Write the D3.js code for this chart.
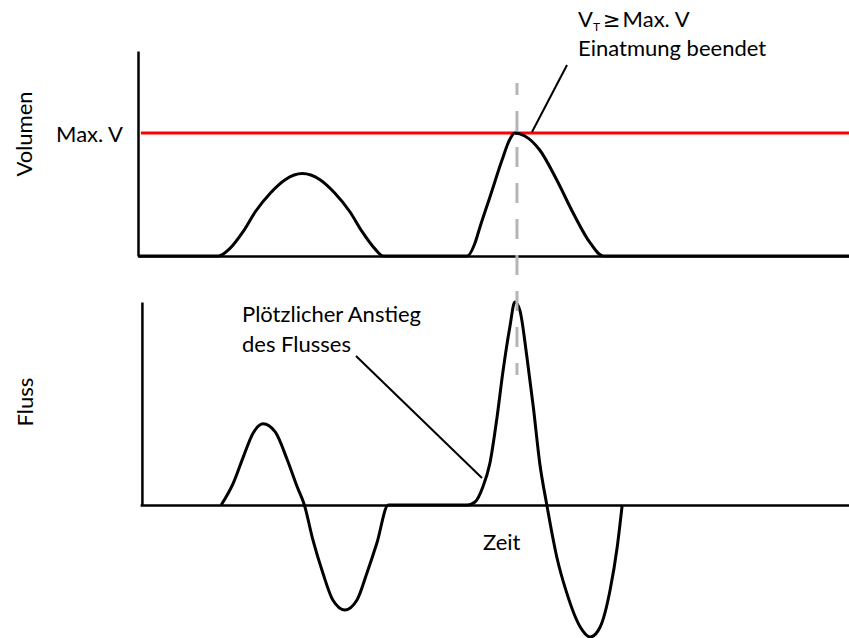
<!DOCTYPE html>
<html>
<head>
<meta charset="utf-8">
<script src="https://cdn.jsdelivr.net/npm/d3@7"></script>
<style>
  html, body { margin: 0; padding: 0; background: #fff; }
  svg text { font-family: Lato, "Open Sans", sans-serif; fill: #000; }
</style>
</head>
<body>
<svg id="chart" width="849" height="638"></svg>
<script>
// Time axis runs 0..100 (arbitrary units) across both panels.
// Volume is expressed relative to the set maximum volume (Max. V = 1).
const volumeTime  = [0, 11.3, 12.9, 14.8, 16.5, 18.6, 20.7, 23.1, 25.6, 27.7, 29.8, 31.5, 33.3, 34.5,
                     46.3, 47.4, 48.1, 49.5, 51.2, 52.3, 53.0, 54.4, 56.5, 58.9, 61.2, 63.6, 65.4, 100];
const volumeValue = [0, 0, 0.06, 0.20, 0.36, 0.51, 0.62, 0.67, 0.62, 0.51, 0.36, 0.20, 0.06, 0,
                     0, 0.106, 0.236, 0.48, 0.78, 0.95, 1.0, 0.976, 0.862, 0.618, 0.35, 0.106, 0, 0];

// Flow relative to the peak of the second breath (peak = 1).
const flowTime  = [11.7, 13.4, 14.8, 16.2, 17.6, 19.3, 21.0, 22.4, 23.4, 24.6, 26.0, 27.4, 29.1, 30.8, 32.2, 33.6, 35.2,
                   46.3, 47.4, 48.5, 49.5, 50.5, 51.3, 52.3, 53.0, 53.7, 54.7, 55.6, 56.5, 57.5,
                   58.9, 60.3, 62.2, 63.6, 65.0, 66.4, 67.4, 68.1];
const flowValue = [0, 0.108, 0.236, 0.355, 0.40, 0.36, 0.222, 0.089, 0, -0.172, -0.335, -0.468, -0.517, -0.468, -0.335, -0.187, 0,
                   0, 0.015, 0.089, 0.207, 0.433, 0.65, 0.877, 1.0, 0.96, 0.729, 0.483, 0.207, 0,
                   -0.256, -0.433, -0.601, -0.65, -0.601, -0.419, -0.207, 0];

const maxVolume = 1;          // volume limit shown as the red line
const cutoffTime = 53.3;      // moment the inspiration is ended

const labels = {
  volume: "Volumen",
  flow: "Fluss",
  time: "Zeit",
  maxV: "Max. V",
  endLine2: "Einatmung beendet",
  riseLine1: "Plötzlicher Anstieg",
  riseLine2: "des Flusses"
};

const svg = d3.select("#chart");

const x = d3.scaleLinear().domain([0, 100]).range([138, 849]);
const yVol = d3.scaleLinear().domain([0, 1.667]).range([256, 51]);
const yFlow = d3.scaleLinear().domain([-1, 1]).range([708, 302]);

const volumeData = volumeTime.map((t, i) => ({ t, v: volumeValue[i] }));
const flowData = flowTime.map((t, i) => ({ t, v: flowValue[i] }));

// ---- Volume panel axes ----
svg.append("g")
  .attr("transform", `translate(${x(0)},0)`)
  .call(d3.axisLeft(yVol).tickValues([]).tickSizeOuter(0));
svg.append("g")
  .attr("transform", `translate(0,${yVol(0)})`)
  .call(d3.axisBottom(x).tickValues([]).tickSizeOuter(0));

// ---- Flow panel axes ----
svg.append("g")
  .attr("transform", `translate(${x(0.55)},0)`)
  .call(d3.axisLeft(d3.scaleLinear().domain([0, 1]).range([yFlow(0), yFlow(1)])).tickValues([]).tickSizeOuter(0));
svg.append("g")
  .attr("transform", `translate(0,${yFlow(0)})`)
  .call(d3.axisBottom(d3.scaleLinear().domain([0.3, 100]).range([x(0.3), x(100)])).tickValues([]).tickSizeOuter(0));

svg.selectAll(".domain").attr("stroke", "#000").attr("stroke-width", 2.5);

// Max volume limit
svg.append("line")
  .attr("x1", x(0.4)).attr("x2", x(100))
  .attr("y1", yVol(maxVolume)).attr("y2", yVol(maxVolume))
  .attr("stroke", "#ff0000").attr("stroke-width", 3);

const volLine = d3.line().x(d => x(d.t)).y(d => yVol(d.v)).curve(d3.curveMonotoneX);
const flowLine = d3.line().x(d => x(d.t)).y(d => yFlow(d.v)).curve(d3.curveMonotoneX);

svg.append("path").datum(volumeData)
  .attr("d", volLine).attr("fill", "none")
  .attr("stroke", "#000").attr("stroke-width", 3).attr("stroke-linejoin", "round");

svg.append("path").datum(flowData)
  .attr("d", flowLine).attr("fill", "none")
  .attr("stroke", "#000").attr("stroke-width", 3).attr("stroke-linejoin", "round");

// Callout leaders
svg.append("line")
  .attr("x1", 532).attr("y1", 132).attr("x2", 567).attr("y2", 65)
  .attr("stroke", "#000").attr("stroke-width", 2);
svg.append("line")
  .attr("x1", 356).attr("y1", 356).attr("x2", 482).attr("y2", 478)
  .attr("stroke", "#000").attr("stroke-width", 2);

// Cut-off marker through both panels
svg.append("line")
  .attr("x1", x(cutoffTime)).attr("x2", x(cutoffTime))
  .attr("y1", 83).attr("y2", 375)
  .attr("stroke", "#b5b5b5").attr("stroke-width", 3)
  .attr("stroke-dasharray", "20,16").attr("stroke-dashoffset", 8);

// ---- Text ----
const fs = 22;
svg.append("text")
  .attr("transform", `translate(32,134) rotate(-90)`)
  .attr("text-anchor", "middle").attr("font-size", fs).text(labels.volume);
svg.append("text")
  .attr("transform", `translate(33,402) rotate(-90)`)
  .attr("text-anchor", "middle").attr("font-size", fs).text(labels.flow);
svg.append("text")
  .attr("x", 123).attr("y", 142).attr("text-anchor", "end")
  .attr("font-size", fs).text(labels.maxV);
svg.append("text")
  .attr("x", 483).attr("y", 550).attr("font-size", fs).text(labels.time);

const vt = svg.append("text").attr("x", 578).attr("y", 27).attr("font-size", fs);
vt.append("tspan").text("V");
vt.append("tspan").attr("font-size", 12).attr("dy", 4).text("T");
vt.append("tspan").attr("dy", -4).attr("dx", 3)
  .attr("font-family", "'DejaVu Sans', sans-serif").attr("font-size", 21).text("\u2265");
vt.append("tspan").attr("dx", 2).text(labels.maxV);
svg.append("text")
  .attr("x", 578).attr("y", 56).attr("font-size", fs).text(labels.endLine2);

svg.append("text")
  .attr("x", 242).attr("y", 322).attr("font-size", fs).text(labels.riseLine1);
svg.append("text")
  .attr("x", 242).attr("y", 352).attr("font-size", fs).text(labels.riseLine2);
</script>
</body>
</html>
